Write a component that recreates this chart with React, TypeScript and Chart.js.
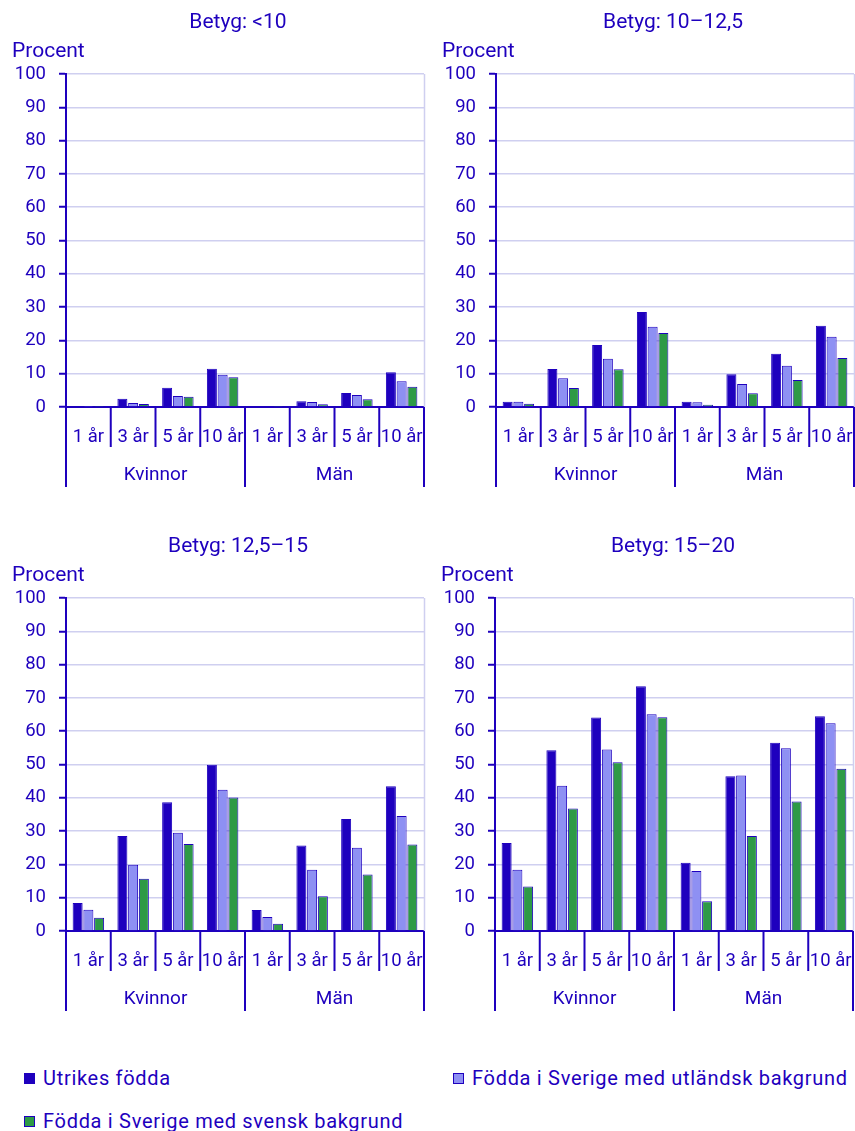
import React, { useEffect, useRef } from "react";
import { Chart, registerables } from "chart.js";

Chart.register(...registerables);

// ---------- data ----------
const periods = ["1 år", "3 år", "5 år", "10 år"];
const genders = ["Kvinnor", "Män"];
const seriesNames = [
  "Utrikes födda",
  "Födda i Sverige med utländsk bakgrund",
  "Födda i Sverige med svensk bakgrund",
];
const panelTitles = ["Betyg: <10", "Betyg: 10–12,5", "Betyg: 12,5–15", "Betyg: 15–20"];
const yAxisTitle = "Procent";
const yMin = 0;
const yMax = 100;
const yStep = 10;

// Order: Kvinnor 1,3,5,10 år, Män 1,3,5,10 år
const under10Utrikes = [0.3, 2.5, 5.8, 11.5, 0.2, 1.7, 4.2, 10.4];
const under10UtlBakgrund = [0.1, 1.2, 3.3, 9.7, 0.2, 1.5, 3.6, 7.7];
const under10SvBakgrund = [0.1, 0.9, 3.1, 8.9, 0.1, 0.8, 2.3, 6.1];

const b10to125Utrikes = [1.6, 11.4, 18.6, 28.5, 1.6, 9.8, 16.0, 24.4];
const b10to125UtlBakgrund = [1.6, 8.6, 14.5, 24.1, 1.4, 6.9, 12.4, 21.1];
const b10to125SvBakgrund = [1.0, 5.7, 11.3, 22.2, 0.7, 4.1, 8.1, 14.7];

const b125to15Utrikes = [8.4, 28.5, 38.7, 49.9, 6.3, 25.7, 33.6, 43.5];
const b125to15UtlBakgrund = [6.4, 19.9, 29.5, 42.4, 4.2, 18.4, 25.0, 34.5];
const b125to15SvBakgrund = [4.0, 15.7, 26.1, 40.1, 2.2, 10.4, 17.0, 26.0];

const b15to20Utrikes = [26.4, 54.3, 64.1, 73.5, 20.5, 46.5, 56.5, 64.5];
const b15to20UtlBakgrund = [18.4, 43.6, 54.5, 65.1, 18.0, 46.7, 54.9, 62.4];
const b15to20SvBakgrund = [13.4, 36.8, 50.7, 64.2, 8.9, 28.5, 38.9, 48.7];

// ---------- styles ----------
const DARK = "#1E00BE";
const LIGHT = "#8E90F3";
const GREEN = "#2E9A46";
const GRID = "#CFCFF0";
const TEXT = "#1E00BE";
const FONT = "Roboto";
const seriesColors = [DARK, LIGHT, GREEN];

type PanelProps = {
  left: number;
  top: number;
  title: string;
  titleX: number;
  series: number[][];
};

function Panel({ left, top, title, titleX, series }: PanelProps) {
  const ref = useRef<HTMLCanvasElement | null>(null);

  useEffect(() => {
    if (!ref.current) return;
    const labels = genders.flatMap(() => periods);
    const decor = {
      id: "decor",
      afterDraw(chart: any) {
        const { ctx, chartArea: a } = chart;
        const xs = chart.scales.x;
        ctx.save();
        // right frame line
        ctx.strokeStyle = GRID;
        ctx.lineWidth = 1.5;
        ctx.beginPath();
        ctx.moveTo(a.right + 0.5, a.top);
        ctx.lineTo(a.right + 0.5, a.bottom);
        ctx.stroke();
        // category separators
        const n = labels.length;
        const w = (a.right - a.left) / n;
        ctx.strokeStyle = DARK;
        ctx.lineWidth = 2;
        for (let i = 0; i <= n; i++) {
          const x = a.left + i * w;
          const y2 = i % periods.length === 0 ? a.bottom + 80 : a.bottom + 40;
          ctx.beginPath();
          ctx.moveTo(x, a.bottom);
          ctx.lineTo(x, y2);
          ctx.stroke();
        }
        // x labels
        ctx.fillStyle = TEXT;
        ctx.textAlign = "center";
        ctx.textBaseline = "alphabetic";
        ctx.font = `18.5px ${FONT}`;
        labels.forEach((lab, i) => {
          ctx.fillText(lab, xs.getPixelForValue(i), a.bottom + 34.7);
        });
        ctx.font = `19px ${FONT}`;
        genders.forEach((g, gi) => {
          const cx = a.left + (gi * periods.length + periods.length / 2) * w;
          ctx.fillText(g, cx, a.bottom + 73);
        });
        // title
        ctx.font = `21px ${FONT}`;
        ctx.fillText(title, titleX, 28.3);
        ctx.textAlign = "left";
        ctx.fillText(yAxisTitle, 12, 57.3);
        ctx.restore();
      },
    };

    const chart = new Chart(ref.current, {
      type: "bar",
      data: {
        labels,
        datasets: series.map((d, i) => ({
          label: seriesNames[i],
          data: d,
          backgroundColor: seriesColors[i],
          borderColor: DARK,
          borderWidth: 1,
          categoryPercentage: 0.72,
          barPercentage: 0.93,
        })),
      },
      options: {
        responsive: false,
        maintainAspectRatio: false,
        animation: false,
        layout: { padding: { top: 74, right: 6, bottom: 0, left: 0 } },
        plugins: {
          legend: { display: false },
          tooltip: { enabled: false },
          title: { display: false },
        },
        scales: {
          x: {
            grid: { display: false },
            border: { display: true, color: DARK, width: 2 },
            ticks: { display: false },
            afterFit: (s: any) => {
              s.height = 93;
            },
          },
          y: {
            min: yMin,
            max: yMax,
            ticks: {
              stepSize: yStep,
              color: TEXT,
              font: { size: 18.5, family: FONT },
              padding: 13,
            },
            grid: {
              color: GRID,
              lineWidth: 1.5,
              tickLength: 7,
              tickColor: DARK,
              tickWidth: 2,
            },
            border: { color: DARK, width: 2 },
            afterFit: (s: any) => {
              s.width = 66;
            },
          },
        },
      },
      plugins: [decor],
    } as any);
    return () => chart.destroy();
  }, []);

  return (
    <canvas
      ref={ref}
      width={430}
      height={500}
      style={{ position: "absolute", left, top, width: 430, height: 500 }}
    />
  );
}

function LegendItem({ left, top, color, text }: { left: number; top: number; color: string; text: string }) {
  return (
    <div
      style={{
        position: "absolute",
        left,
        top,
        height: 22,
        display: "flex",
        alignItems: "center",
        whiteSpace: "nowrap",
        fontFamily: FONT,
        fontSize: 20,
        letterSpacing: "0.7px",
        lineHeight: "22px",
        color: TEXT,
      }}
    >
      <span
        style={{
          display: "inline-block",
          width: 9,
          height: 9,
          background: color,
          border: `1px solid ${DARK}`,
          marginRight: 8,
        }}
      />
      <span>{text}</span>
    </div>
  );
}

export default function App() {
  return (
    <div
      style={{
        position: "absolute",
        left: 0,
        top: 0,
        width: 855,
        height: 1131,
        overflow: "hidden",
        background: "#fff",
      }}
    >
      <Panel left={0} top={0} title={panelTitles[0]} titleX={238}
        series={[under10Utrikes, under10UtlBakgrund, under10SvBakgrund]} />
      <Panel left={430} top={0} title={panelTitles[1]} titleX={243}
        series={[b10to125Utrikes, b10to125UtlBakgrund, b10to125SvBakgrund]} />
      <Panel left={0} top={524} title={panelTitles[2]} titleX={238}
        series={[b125to15Utrikes, b125to15UtlBakgrund, b125to15SvBakgrund]} />
      <Panel left={429} top={524} title={panelTitles[3]} titleX={244}
        series={[b15to20Utrikes, b15to20UtlBakgrund, b15to20SvBakgrund]} />
      <LegendItem left={24} top={1067} color={seriesColors[0]} text={seriesNames[0]} />
      <LegendItem left={453} top={1067} color={seriesColors[1]} text={seriesNames[1]} />
      <LegendItem left={24} top={1110} color={seriesColors[2]} text={seriesNames[2]} />
    </div>
  );
}
